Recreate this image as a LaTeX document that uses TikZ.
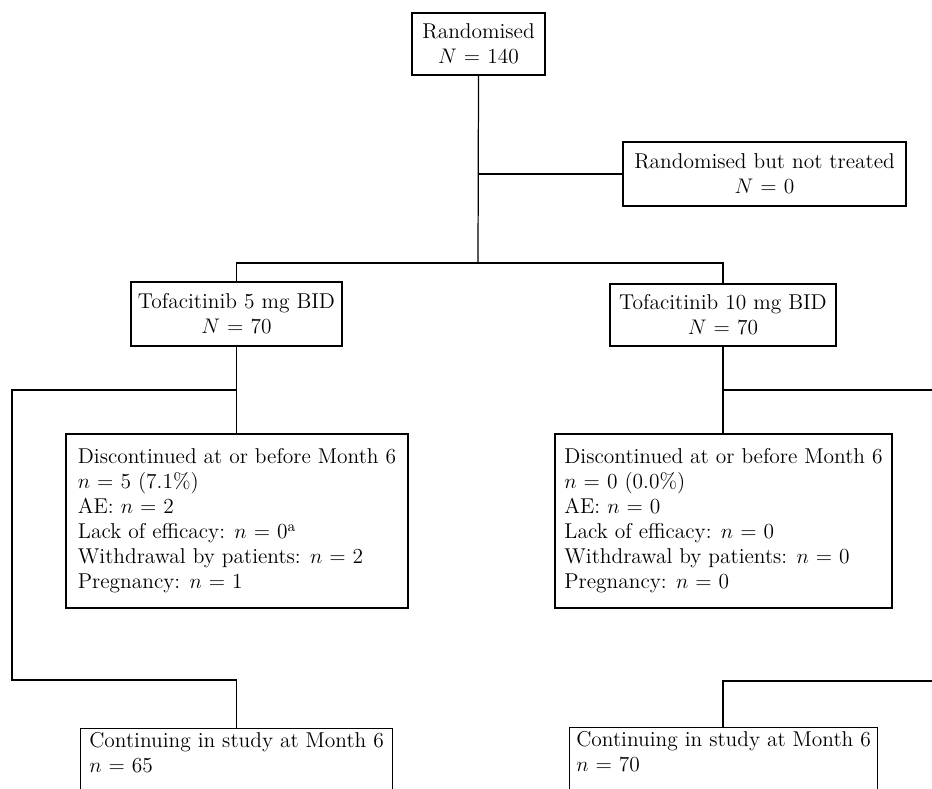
\documentclass[tikz,border=0pt]{standalone}
\usetikzlibrary{positioning}

\tikzset{
  box/.style={draw, line width=0.7pt, inner sep=0pt, align=center,
    font=\fontsize{12.2}{14.2}\selectfont},
  listbox/.style={box, align=left},
  openbox/.style={box, align=left, anchor=north west, inner ysep=0.08cm,
    text depth=2cm},
  link/.style={line width=0.7pt}
}

\begin{document}
\begin{tikzpicture}[x=0.02cm,y=-0.02cm]
  \useasboundingbox (0,0) rectangle (932,788);
  \clip (0,0) rectangle (932,788);

  % boxes
  \node[box, minimum width=2.66cm, minimum height=1.24cm] (rand) at (478.5,44)
    {Randomised\\$N$ = 140};
  \node[box, minimum width=5.66cm, minimum height=1.28cm] (notreat) at (764.5,174)
    {Randomised but not treated\\$N$ = 0};
  \node[box, minimum width=4.22cm, minimum height=1.28cm] (tofa5) at (236.5,314)
    {Tofacitinib 5 mg BID\\$N$ = 70};
  \node[box, minimum width=4.52cm, minimum height=1.24cm] (tofa10) at (723,315)
    {Tofacitinib 10 mg BID\\$N$ = 70};
  \node[listbox, minimum width=6.84cm, minimum height=3.48cm] (disc5) at (237,521)
    {Discontinued at or before Month 6\\
     $n$ = 5 (7.1\%)\\
     AE: $n$ = 2\\
     Lack of efficacy: $n$ = 0\textsuperscript{a}\\
     Withdrawal by patients: $n$ = 2\\
     Pregnancy: $n$ = 1};
  \node[listbox, minimum width=6.74cm, minimum height=3.48cm] (disc10) at (723.5,521)
    {Discontinued at or before Month 6\\
     $n$ = 0 (0.0\%)\\
     AE: $n$ = 0\\
     Lack of efficacy: $n$ = 0\\
     Withdrawal by patients: $n$ = 0\\
     Pregnancy: $n$ = 0};
  \node[openbox, minimum width=6.24cm] (cont5) at (80,728)
    {Continuing in study at Month 6\\$n$ = 65};
  \node[openbox, minimum width=6.16cm] (cont10) at (569,727)
    {Continuing in study at Month 6\\$n$ = 70};

  % branch points
  \coordinate (split) at (478,263);
  \coordinate (left1) at (12,390);
  \coordinate (left2) at (12,680);
  \coordinate (right1) at (932,390);
  \coordinate (right2) at (932,681);

  % connectors
  \draw[link] (rand.south) -- (split);
  \draw[link] (rand.south |- notreat.west) -- (notreat.west);
  \draw[link] (tofa5.north) |- (split) -| (tofa10.north);
  \draw[link] (tofa5.south) -- (tofa5.south |- disc5.north);
  \draw[link] (tofa5.south |- left1) -- (left1) -- (left2) -| (tofa5.south |- cont5.north);
  \draw[link] (tofa10.south) -- (tofa10.south |- disc10.north);
  \draw[link] (tofa10.south |- right1) -- (right1);
  \draw[link] (right2) -| (tofa10.south |- cont10.north);
\end{tikzpicture}
\end{document}
